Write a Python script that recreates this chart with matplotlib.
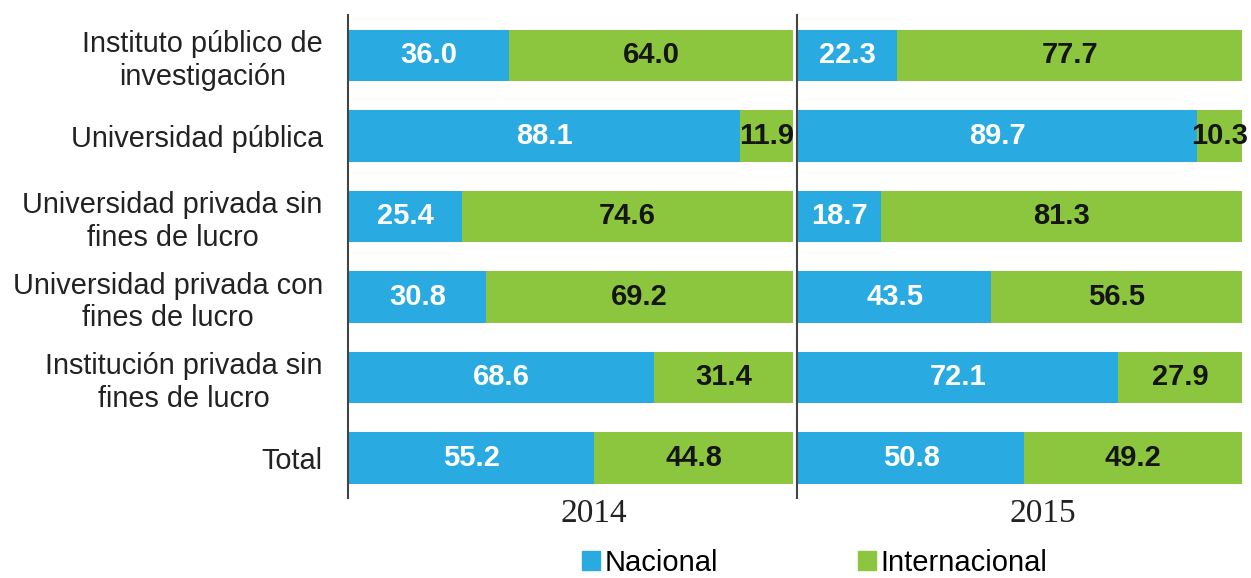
import numpy as np
from matplotlib import pyplot as plt
from matplotlib.patches import Patch

# datos
categorias = ["Instituto público de\ninvestigación", "Universidad pública",
              "Universidad privada sin\nfines de lucro", "Universidad privada con\nfines de lucro",
              "Institución privada sin\nfines de lucro", "Total"]
anios = ["2014", "2015"]
nacional_2014 = [36.0, 88.1, 25.4, 30.8, 68.6, 55.2]
internacional_2014 = [64.0, 11.9, 74.6, 69.2, 31.4, 44.8]
nacional_2015 = [22.3, 89.7, 18.7, 43.5, 72.1, 50.8]
internacional_2015 = [77.7, 10.3, 81.3, 56.5, 27.9, 49.2]

azul = "#29abe2"
verde = "#8cc63f"

fig = plt.figure(figsize=(12.51, 5.78), dpi=100)
ax1 = fig.add_axes([0.278, 0.138, 0.356, 0.836])
ax2 = fig.add_axes([0.637, 0.138, 0.356, 0.836])

y = np.arange(len(categorias))
paneles = [(ax1, nacional_2014, internacional_2014, anios[0]),
           (ax2, nacional_2015, internacional_2015, anios[1])]
for ax, nac, inter, anio in paneles:
    ax.barh(y, nac, height=0.64, color=azul)
    ax.barh(y, inter, left=nac, height=0.64, color=verde)
    for i in range(len(y)):
        ax.text(nac[i] / 2, y[i], "%.1f" % nac[i], ha="center", va="center",
                color="white", fontsize=21, fontweight="bold", family="Liberation Sans")
        ax.text(nac[i] + inter[i] / 2, y[i], "%.1f" % inter[i], ha="center", va="center",
                color="#151515", fontsize=21, fontweight="bold", family="Liberation Sans")
    ax.set_xlim(-0.3, 100)
    ax.set_ylim(len(categorias) - 0.5, -0.5)
    ax.set_xticks([])
    for s in ["top", "right", "bottom"]:
        ax.spines[s].set_visible(False)
    ax.spines["left"].set_color("#444444")
    ax.spines["left"].set_linewidth(1.5)
    # año debajo del panel
    ax.text(55, 0.0, anio, transform=ax.get_xaxis_transform(), ha="center", va="top",
            fontsize=24, family="Liberation Serif", color="#222222")

ax1.set_yticks(y)
ax1.set_yticklabels(categorias, fontsize=20.8, family="Liberation Sans", color="#222222",
                    ha="right", multialignment="center", linespacing=1.2)
ax1.tick_params(axis="y", length=0, pad=18)
ax2.set_yticks([])

leyenda = [Patch(color=azul, label="Nacional"), Patch(color=verde, label="Internacional")]
fig.legend(handles=leyenda, loc="center", bbox_to_anchor=(0.651, 0.026), ncol=2, frameon=False,
           prop={"family": "Liberation Sans", "size": 21}, handlelength=0.62, handleheight=0.62,
           handletextpad=0.15, columnspacing=4.8, borderpad=0)

plt.savefig("out.png", dpi=100)
